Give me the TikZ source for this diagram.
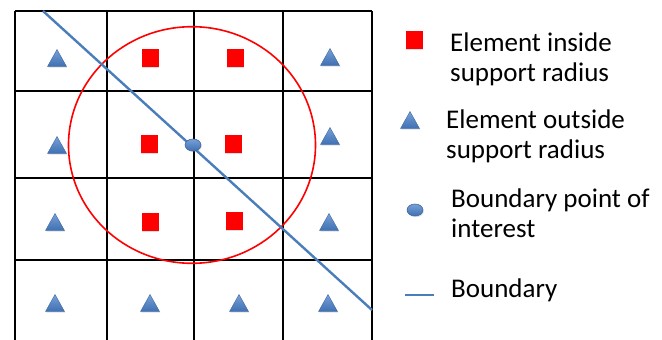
\documentclass[tikz,border=0pt]{standalone}
\usepackage{fontspec}
\setmainfont{Carlito}
\usetikzlibrary{shadows,shapes.geometric}
\definecolor{lineblue}{RGB}{74,126,187}
\definecolor{tritop}{RGB}{120,160,215}
\definecolor{tribot}{RGB}{62,112,178}
\definecolor{triedge}{RGB}{65,105,160}
\definecolor{sqred}{RGB}{255,0,0}
\tikzset{
  x=1pt, y=-1pt,
  gridline/.style={black, line width=1.4pt},
  radiuscircle/.style={draw=sqred, line width=1.6pt},
  boundaryline/.style={lineblue, line width=2.4pt},
  insidesq/.style={fill=sqred, draw=none, minimum width=17pt, minimum height=18pt, inner sep=0pt,
    drop shadow={opacity=0.25, shadow xshift=0.8pt, shadow yshift=-1.2pt}},
  poi/.style={ellipse, top color=tritop, bottom color=tribot, draw=triedge, line width=0.6pt,
    minimum width=16pt, minimum height=12pt, inner sep=0pt,
    drop shadow={opacity=0.25, shadow xshift=0.8pt, shadow yshift=-1.2pt}},
  legendtext/.style={anchor=base west, align=left, inner sep=0pt,
    font=\fontsize{27}{30.5}\selectfont},
  tri/.pic={
    \shade[top color=tritop, bottom color=tribot, draw=triedge, line width=0.4pt,
      drop shadow={opacity=0.25, shadow xshift=0.8pt, shadow yshift=-1.2pt}]
      (-9.5,8.5) -- (9.5,8.5) -- (0,-8.5) -- cycle;
  }
}
\begin{document}
\begin{tikzpicture}
\useasboundingbox (0,0) rectangle (662,340);
% grid
\foreach \gx in {15,107,194,283,372} \draw[gridline] (\gx,11) -- (\gx,340);
\foreach \gy in {11,91,178,260} \draw[gridline] (15,\gy) -- (372,\gy);
% support radius
\draw[radiuscircle] (192,145) ellipse [x radius=123.5, y radius=118.3];
% boundary line
\coordinate (bs) at (43,11);
\coordinate (be) at (372,310);
\draw[boundaryline] (bs) -- (be);
% point of interest
\node[poi] (p) at (193,145) {};
% inside elements
\node[insidesq] (s1) at (150,58) {};
\node[insidesq] (s2) at (235,58) {};
\node[insidesq] (s3) at (149,144) {};
\node[insidesq] (s4) at (233,144) {};
\node[insidesq] (s5) at (150,222) {};
\node[insidesq] (s6) at (234,221) {};
% outside elements
\pic at (57,58) {tri};
\pic at (330,57) {tri};
\pic at (57,145) {tri};
\pic at (330,136) {tri};
\pic at (55,222) {tri};
\pic at (329,222) {tri};
\pic at (55,303) {tri};
\pic at (150,303) {tri};
\pic at (239,303) {tri};
\pic at (328,303) {tri};
% legend
\node[insidesq] (ls) at (414,40) {};
\node[legendtext] (lt1) at (450,81.5) {Element inside\\support radius};
\pic at (410,120) {tri};
\node[legendtext] (lt2) at (446,158.5) {Element outside\\support radius};
\node[poi] (lp) at (415,210) {};
\node[legendtext] (lt3) at (451,237.5) {Boundary point of\\interest};
\coordinate (lls) at (405,295);
\coordinate (lle) at (434,295);
\draw[boundaryline] (lls) -- (lle);
\node[legendtext] (lt4) at (451,297) {Boundary};
\end{tikzpicture}
\end{document}
